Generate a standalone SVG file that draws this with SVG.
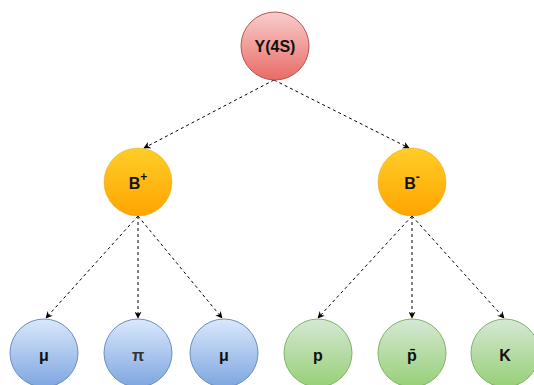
<svg xmlns="http://www.w3.org/2000/svg" width="534" height="385" viewBox="0 0 534 385">
<defs>
<linearGradient id="gr" x1="0" y1="0" x2="0" y2="1"><stop offset="0" stop-color="#f8cecc"/><stop offset="1" stop-color="#ea6b66"/></linearGradient>
<linearGradient id="go" x1="0" y1="0" x2="0" y2="1"><stop offset="0" stop-color="#ffcd28"/><stop offset="1" stop-color="#ffa500"/></linearGradient>
<linearGradient id="gb" x1="0" y1="0" x2="0" y2="1"><stop offset="0" stop-color="#dae8fc"/><stop offset="1" stop-color="#7ea6e0"/></linearGradient>
<linearGradient id="gg" x1="0" y1="0" x2="0" y2="1"><stop offset="0" stop-color="#d5e8d4"/><stop offset="1" stop-color="#97d077"/></linearGradient>
<marker id="ah" viewBox="0 0 10 10" refX="9" refY="5" markerWidth="7" markerHeight="7" orient="auto" markerUnits="userSpaceOnUse">
<path d="M0,0 L10,5 L0,10 L3,5 Z" fill="#000"/>
</marker>
</defs>
<style>
.lbl{font-family:"Liberation Sans",Arial,sans-serif;font-weight:bold;font-size:16px;fill:#111;text-anchor:middle;dominant-baseline:central}
.r{fill:url(#gr);stroke:#b85450}
.o{fill:url(#go);stroke:#d79b00;stroke-opacity:0.4}
.b{fill:url(#gb);stroke:#6c8ebf}
.g{fill:url(#gg);stroke:#82b366}
.e{fill:none;stroke:#000;stroke-width:1;stroke-dasharray:3 3;marker-end:url(#ah)}
</style>
<g id="connectors">
<line class="e" x1="274" y1="80" x2="144" y2="148"/>
<line class="e" x1="274" y1="80" x2="409" y2="148"/>
<line class="e" x1="138" y1="216" x2="46" y2="318"/>
<line class="e" x1="138" y1="216" x2="138" y2="318"/>
<line class="e" x1="138" y1="216" x2="222" y2="318"/>
<line class="e" x1="412" y1="216" x2="318" y2="318"/>
<line class="e" x1="412" y1="216" x2="412" y2="318"/>
<line class="e" x1="412" y1="216" x2="504" y2="318"/>
</g>
<g id="y4s"><circle class="r" cx="275" cy="46" r="34"/><text class="lbl" x="275" y="46">Y(4S)</text></g>
<g id="bplus"><circle class="o" cx="138" cy="182" r="34"/><text class="lbl" x="138" y="183">B<tspan font-size="12" dy="-6">+</tspan></text></g>
<g id="bminus"><circle class="o" cx="412" cy="182" r="34"/><text class="lbl" x="412" y="183">B<tspan font-size="12" dy="-6">-</tspan></text></g>
<g id="mu1"><circle class="b" cx="44" cy="353" r="34"/><text class="lbl" x="44" y="355">μ</text></g>
<g id="pi"><circle class="b" cx="138" cy="353" r="34"/><text class="lbl" x="138" y="355" style="fill:#333">π</text></g>
<g id="mu2"><circle class="b" cx="224" cy="353" r="34"/><text class="lbl" x="224" y="355">μ</text></g>
<g id="p"><circle class="g" cx="318" cy="353" r="34"/><text class="lbl" x="318" y="355">p</text></g>
<g id="pbar"><circle class="g" cx="412" cy="353" r="34"/><text class="lbl" x="412" y="355">p̄</text></g>
<g id="k"><circle class="g" cx="505" cy="353" r="34"/><text class="lbl" x="505" y="355">K</text></g>
</svg>
